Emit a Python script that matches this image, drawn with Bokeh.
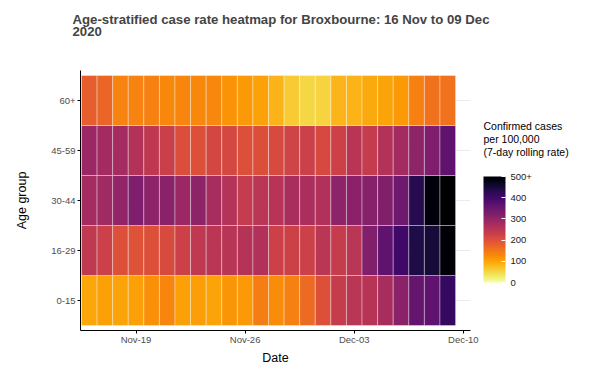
from datetime import datetime, timedelta
from bokeh.plotting import figure
from bokeh.models import (ColumnDataSource, LinearColorMapper, ColorBar, FixedTicker,
                          Range1d, DatetimeTickFormatter, LinearAxis)
from bokeh.palettes import Inferno256
from bokeh.embed import file_html
from bokeh.resources import INLINE

# ---- data ----
dates = ["2020-11-%02d" % d for d in range(16, 31)] + ["2020-12-%02d" % d for d in range(1, 10)]
age_groups = ["0-15", "16-29", "30-44", "45-59", "60+"]
rate_0_15 = [98, 104, 101, 104, 123, 134, 105, 106, 101, 116, 112, 141, 125, 137, 165, 200, 235, 250, 255, 275, 310, 355, 365, 415]
rate_16_29 = [243, 228, 200, 197, 200, 208, 225, 243, 250, 252, 257, 262, 227, 226, 228, 250, 235, 250, 322, 365, 400, 440, 450, 495]
rate_30_44 = [278, 285, 302, 325, 308, 312, 290, 305, 275, 258, 238, 250, 255, 272, 270, 262, 305, 310, 315, 322, 345, 430, 490, 520]
rate_45_59 = [290, 280, 278, 260, 245, 230, 205, 200, 215, 213, 200, 203, 210, 222, 228, 212, 225, 252, 238, 260, 280, 305, 325, 365]
rate_60_plus = [180, 170, 135, 135, 137, 130, 133, 130, 132, 118, 112, 102, 85, 61, 50, 54, 83, 85, 95, 100, 112, 139, 155, 155]
x_ticks = ["2020-11-19", "2020-11-26", "2020-12-03", "2020-12-10"]
legend_ticks = [0, 100, 200, 300, 400, 500]
chart_title_lines = ["Age-stratified case rate heatmap for Broxbourne: 16 Nov to 09 Dec", "2020"]
legend_title_lines = ["Confirmed cases", " per 100,000", " (7-day rolling rate)"]

series = [rate_0_15, rate_16_29, rate_30_44, rate_45_59, rate_60_plus]
xs, ys, vs = [], [], []
for gi, vals in enumerate(series):
    for d, v in zip(dates, vals):
        xs.append(datetime.strptime(d, "%Y-%m-%d"))
        ys.append(gi)
        vs.append(v)
src = ColumnDataSource(dict(x=xs, y=ys, v=vs))

palette = list(reversed(Inferno256))
mapper = LinearColorMapper(palette=palette, low=0, high=500, high_color=Inferno256[0])

day_ms = 86400000
d0 = datetime.strptime(dates[0], "%Y-%m-%d")
x_start = d0 - timedelta(hours=13.5)
x_end = datetime.strptime(dates[-1], "%Y-%m-%d") + timedelta(hours=35)

FONT = "Liberation Sans"
FW, FH = 390, 260

p = figure(frame_width=FW, frame_height=FH, x_axis_type="datetime",
           x_range=Range1d(x_start, x_end),
           y_range=Range1d(-0.6, len(age_groups) - 0.4),
           output_backend="svg", toolbar_location=None,
           min_border_left=80, min_border_top=70, min_border_bottom=40, min_border_right=117)

p.rect(x="x", y="y", width=day_ms, height=1, source=src,
       fill_color={"field": "v", "transform": mapper},
       line_color="white", line_alpha=0.35, line_width=1)

# two title lines, padded with two blank lines so the block sits high above the frame
p.title.text = "\n".join(chart_title_lines + ["\u00a0", "\u00a0"])
p.title.text_font = FONT
p.title.text_font_size = "13.2px"
p.title.text_font_style = "bold"
p.title.text_line_height = 0.82
p.title.offset = -8
p.title.standoff = 14

p.outline_line_color = None
p.xgrid.grid_line_color = None
p.ygrid.grid_line_color = "#EBEBEB"
p.ygrid.grid_line_width = 1

p.xaxis.ticker = FixedTicker(ticks=[datetime.strptime(t, "%Y-%m-%d").timestamp() * 1000 for t in x_ticks])
fmt = "%b-%d"
p.xaxis.formatter = DatetimeTickFormatter(days=fmt, months=fmt, hours=fmt, years=fmt, minutes=fmt, seconds=fmt)

p.yaxis.ticker = FixedTicker(ticks=list(range(len(age_groups))))
p.yaxis.major_label_overrides = {i: g for i, g in enumerate(age_groups)}

for ax in (p.xaxis[0], p.yaxis[0]):
    ax.axis_line_color = "black"
    ax.axis_line_width = 1
    ax.major_tick_line_color = "black"
    ax.major_tick_out = 3
    ax.major_tick_in = 0
    ax.minor_tick_line_color = None
    ax.major_label_text_font = FONT
    ax.major_label_text_font_size = "9.5px"
    ax.major_label_text_color = "#4D4D4D"
    ax.axis_label_text_font = FONT
    ax.axis_label_text_font_size = "12.5px"
    ax.axis_label_text_font_style = "normal"
    ax.axis_label_text_color = "black"

p.xaxis.axis_label = "Date"
p.yaxis.axis_label = "Age group"
p.xaxis.major_label_standoff = 0
p.yaxis.major_label_standoff = 2
p.xaxis.axis_label_standoff = 3
p.yaxis.axis_label_standoff = 19

# legend title: a label-only axis on the right, in page-pixel rows
p.extra_y_ranges = {"legend": Range1d(330, 70)}
title_rows = [125, 138, 151]
leg_axis = LinearAxis(y_range_name="legend", ticker=FixedTicker(ticks=title_rows),
                      major_label_overrides={r: t for r, t in zip(title_rows, legend_title_lines)},
                      axis_line_color=None, major_tick_line_color=None, minor_tick_line_color=None,
                      major_tick_out=0, major_tick_in=0, major_label_standoff=13,
                      major_label_text_font=FONT, major_label_text_font_size="10.5px",
                      major_label_text_color="black")
p.add_layout(leg_axis, "right")

# colour bar
cb = ColorBar(color_mapper=mapper, ticker=FixedTicker(ticks=legend_ticks),
              major_label_overrides={500: "500+"},
              width=22, height=106,
              major_label_text_font=FONT, major_label_text_font_size="9.5px",
              major_label_text_color="#1A1A1A",
              label_standoff=5,
              major_tick_line_color="white", major_tick_in=4, major_tick_out=0,
              minor_tick_line_color=None,
              bar_line_color=None, border_line_color=None, background_fill_color=None,
              padding=0, margin=0, location=(403, 48))
p.add_layout(cb, "center")

open("out.html", "w").write(file_html(p, INLINE))
